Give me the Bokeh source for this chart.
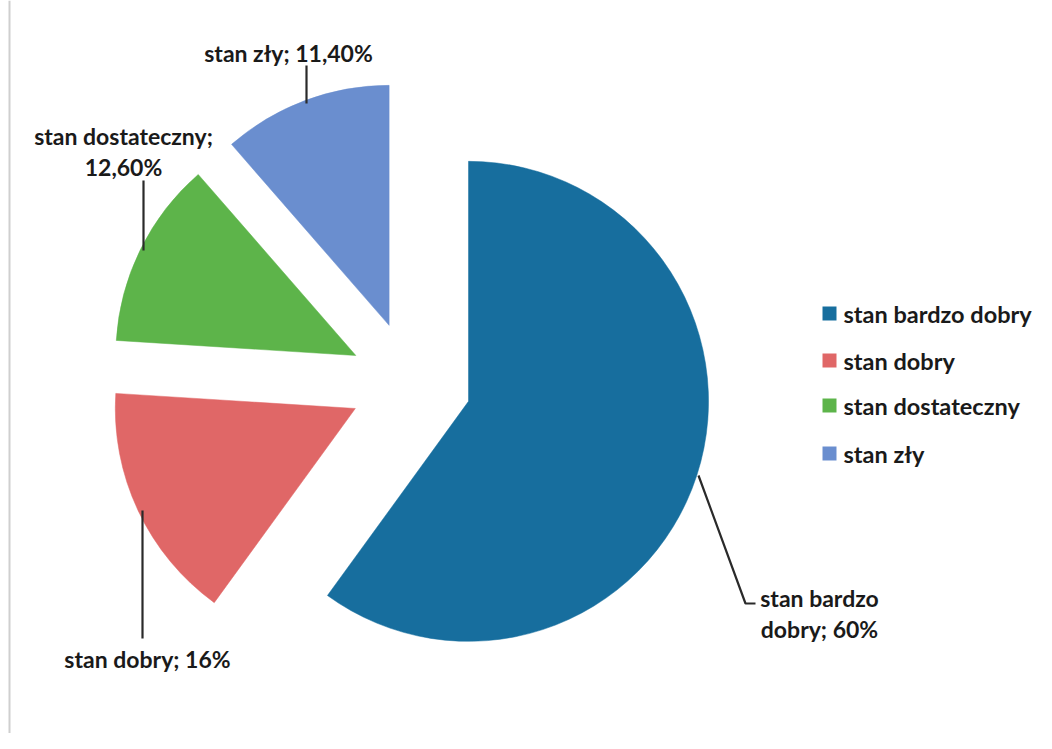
import math
from bokeh.plotting import figure
from bokeh.models import Range1d
from bokeh.core.properties import value
from bokeh.embed import file_html
from bokeh.resources import INLINE

# ---- data ----
categories = ["stan bardzo dobry", "stan dobry", "stan dostateczny", "stan zły"]
shares = [60.0, 16.0, 12.6, 11.4]
label_texts = ["stan bardzo\ndobry; 60%", "stan dobry; 16%", "stan dostateczny;\n12,60%", "stan zły; 11,40%"]
colors = ["#176E9E", "#E06767", "#5DB44A", "#6A8ECF"]

# ---- layout (reference pixel space, y flipped) ----
W, H = 1036, 733
def Y(py):
    return H - py

p = figure(width=W, height=H, output_backend="svg", toolbar_location=None,
           x_range=Range1d(0, W), y_range=Range1d(0, H),
           min_border=0, outline_line_color=None)
p.axis.visible = False
p.grid.visible = False
p.background_fill_color = "white"
p.border_fill_color = "white"

cx, cy = 410, Y(382)
radius = 240
explode = 61

total = sum(shares)
cum = 0.0
xs, ys, starts, ends = [], [], [], []
for s in shares:
    a_end = 90 - cum / total * 360
    cum += s
    a_start = 90 - cum / total * 360
    mid = math.radians((a_start + a_end) / 2)
    xs.append(cx + explode * math.cos(mid))
    ys.append(cy + explode * math.sin(mid))
    starts.append(math.radians(a_start))
    ends.append(math.radians(a_end))

p.wedge(x=xs, y=ys, radius=radius, start_angle=starts, end_angle=ends,
        fill_color=colors, line_color=colors, line_width=0.5)

# left frame line of the scanned chart
p.segment(x0=[9], y0=[Y(0)], x1=[9], y1=[Y(749)], line_color="#cfcfcf", line_width=2)

font = value("Lato")
# leader lines
lead_x = [[698, 745, 755], [142, 142], [143, 143], [306, 306]]
lead_y = [[Y(475), Y(603), Y(603)], [Y(510), Y(638)], [Y(250), Y(180)], [Y(103), Y(65)]]
p.multi_line(xs=lead_x, ys=lead_y, line_color="#2a2a2a", line_width=2.2)

# data labels
lab_x = [819, 147, 123, 288]
lab_y = [Y(597), Y(658), Y(135), Y(52)]
for i, t in enumerate(label_texts):
    lines = t.split("\n")
    for j, ln in enumerate(lines):
        p.text(x=[lab_x[i]], y=[lab_y[i] - j * 31], text=[ln], text_font=font,
               text_font_style="bold", text_font_size="23px", text_color="#1a1a1a",
               text_align="center", text_baseline="middle")

# legend
leg_y = [Y(313), Y(360), Y(405), Y(453)]
p.scatter(x=[829] * 4, y=leg_y, marker="square", size=14, fill_color=colors, line_color=None)
p.text(x=[843] * 4, y=leg_y, text=categories, text_font=font, text_font_style="bold",
       text_font_size="23.5px", text_color="#1a1a1a", text_align="left", text_baseline="middle")

open("out.html", "w").write(file_html(p, INLINE))
